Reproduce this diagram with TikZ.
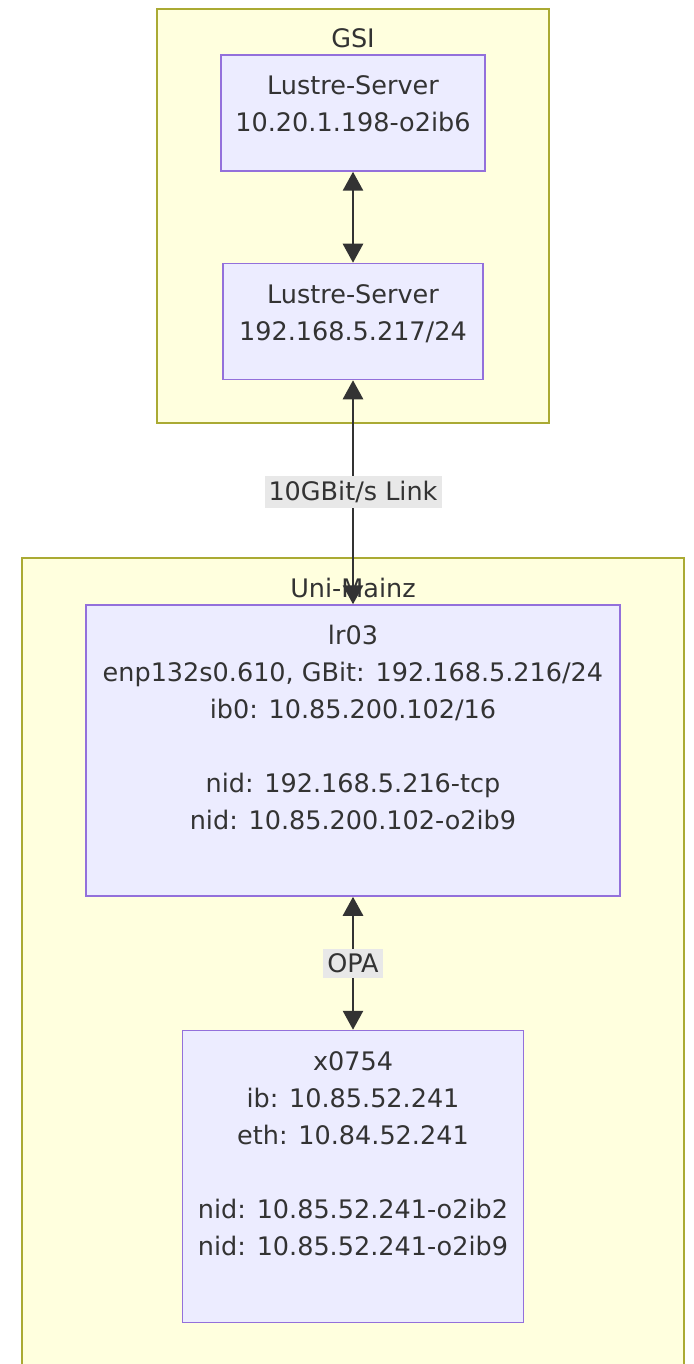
\documentclass[tikz,border=0pt]{standalone}
\usepackage{fontspec}
\setmainfont{DejaVu Sans}
\usetikzlibrary{positioning}
\usetikzlibrary{arrows.meta}
\definecolor{clusterfill}{HTML}{FFFFDE}
\definecolor{clusterline}{HTML}{AAAA33}
\definecolor{hostfill}{HTML}{ECECFF}
\definecolor{hostline}{HTML}{9370DB}
\definecolor{inkgray}{HTML}{333333}
\definecolor{labelgray}{HTML}{E8E8E8}
% text of a host box: fixed size, lines start at the top
\newcommand{\hostlines}[3]{\parbox[c][#2][t]{#1}{\centering\vspace*{14pt}\strut#3}}
\tikzset{node distance=91pt, % gap between hosts, changed per pair below
  every node/.style={align=center,
    text=inkgray,
    font=\fontsize{25.5}{37}\selectfont},
         cluster/.style={ % the two sites
           draw=clusterline,
           fill=clusterfill,
           line width=1.5pt},
         host/.style={ % every machine
           draw=hostline,
           fill=hostfill,
           line width=1.5pt,
           inner sep=0pt},
         link/.style={ % connections, both ways
           draw=inkgray,
           line width=2.8pt,
           {Triangle[length=19pt,width=20pt]}-{Triangle[length=19pt,width=20pt]}},
         linklabel/.style={
           fill=labelgray,
           inner xsep=4pt,
           inner ysep=5pt}}
\begin{document}
\begin{tikzpicture}[x=1pt,y=1pt]
  \clip (0,0) rectangle (693,-1364);

  % sites
  \draw [cluster] (157,-9) rectangle (549,-423);
  \node (gsi) at (353,-38) {GSI};
  \draw [cluster] (22,-558) rectangle (684,-1390);
  \node (mainz) at (353,-588) {Uni-Mainz};

  \node [host] (lustreib) at (353,-113) {\hostlines{264pt}{116pt}{%
    Lustre-Server\\
    10.20.1.198-o2ib6}};
  \node [host, below=of lustreib] (lustretcp) {\hostlines{260pt}{116pt}{%
    Lustre-Server\\
    192.168.5.217/24}};

  \node [host, below=224pt of lustretcp] (lr03) {\hostlines{534pt}{291pt}{%
    lr03\\
    enp132s0.610, GBit: 192.168.5.216/24\\
    ib0: 10.85.200.102/16\\[37pt]
    nid: 192.168.5.216-tcp\\
    nid: 10.85.200.102-o2ib9}};
  \node [host, below=133pt of lr03] (x0754) {\hostlines{341pt}{292pt}{%
    x0754\\
    ib: 10.85.52.241\\
    eth: 10.84.52.241\\[37pt]
    nid: 10.85.52.241-o2ib2\\
    nid: 10.85.52.241-o2ib9}};

  \draw [link] (lustreib) -- (lustretcp);
  \draw [link] (lustretcp) -- node [linklabel] (gbitlink) {10GBit/s Link} (lr03);
  \draw [link] (lr03) -- node [linklabel] (opalink) {OPA} (x0754);

\end{tikzpicture}
\end{document}
